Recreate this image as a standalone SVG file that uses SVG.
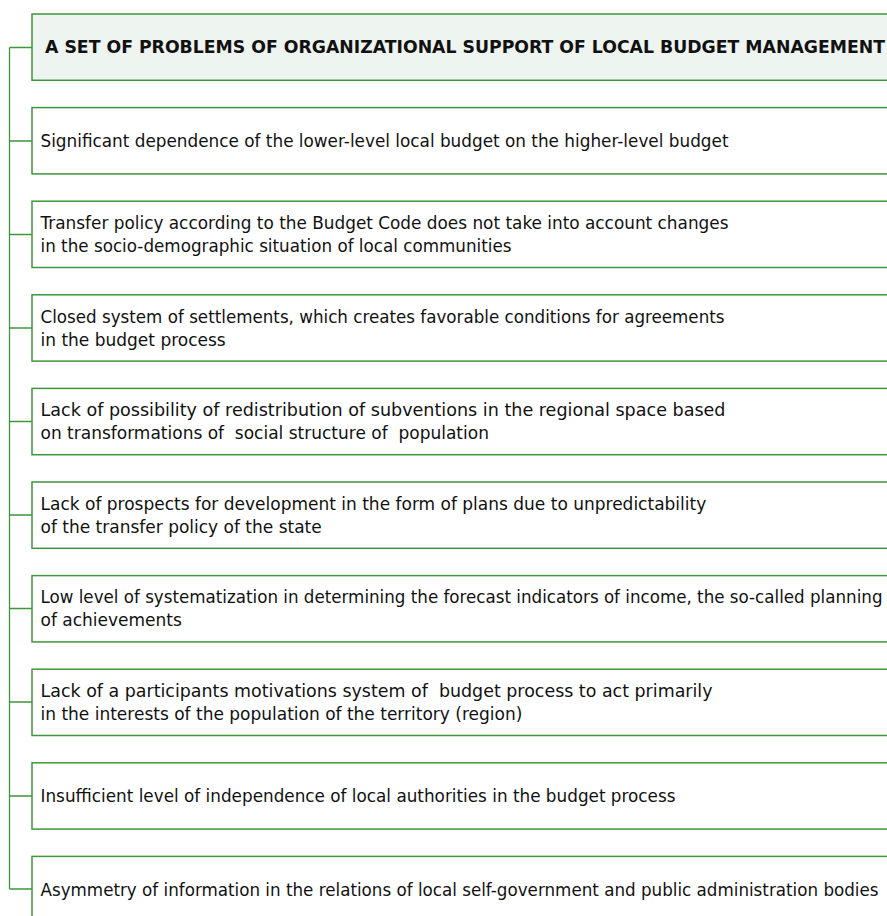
<svg xmlns="http://www.w3.org/2000/svg" width="887" height="916" viewBox="0 0 887 916">
<style>
.box{fill:#ffffff;stroke:#3d963d;stroke-width:1.5}
.hdr{fill:#eef4ef;stroke:#3d963d;stroke-width:1.5}
.t{font-family:"DejaVu Sans",sans-serif;font-size:17px;fill:#111111}
.h{font-family:"DejaVu Sans",sans-serif;font-size:17px;font-weight:bold;fill:#111111}
.c{fill:none;stroke:#3d963d;stroke-width:1.3}
</style>
<rect width="887" height="916" fill="#ffffff"/>
<g id="connectors">
<path class="c" d="M9.5 47.5V889M9.5 47.5H32M9.5 141H32M9.5 234.5H32M9.5 328H32M9.5 421.5H32M9.5 515H32M9.5 608.5H32M9.5 702H32M9.5 796H32M9.5 889H32"/>
</g>
<g id="header">
<rect class="hdr" x="32" y="14" width="870" height="66.3"/>
<text class="h" x="45" y="53.3" textLength="840" lengthAdjust="spacingAndGlyphs">A SET OF PROBLEMS OF ORGANIZATIONAL SUPPORT OF LOCAL BUDGET MANAGEMENT</text>
</g>
<g id="p1">
<rect class="box" x="32" y="107.6" width="870" height="66.3"/>
<text class="t" x="40.5" y="147" textLength="688" lengthAdjust="spacingAndGlyphs">Significant dependence of the lower-level local budget on the higher-level budget</text>
</g>
<g id="p2">
<rect class="box" x="32" y="201.2" width="870" height="66.3"/>
<text class="t" x="40.5" y="229" textLength="688" lengthAdjust="spacingAndGlyphs">Transfer policy according to the Budget Code does not take into account changes</text>
<text class="t" x="40.5" y="252" textLength="471" lengthAdjust="spacingAndGlyphs">in the socio-demographic situation of local communities</text>
</g>
<g id="p3">
<rect class="box" x="32" y="294.8" width="870" height="66.3"/>
<text class="t" x="40.5" y="322.6" textLength="684" lengthAdjust="spacingAndGlyphs">Closed system of settlements, which creates favorable conditions for agreements</text>
<text class="t" x="40.5" y="345.6">in the budget process</text>
</g>
<g id="p4">
<rect class="box" x="32" y="388.4" width="870" height="66.3"/>
<text class="t" x="40.5" y="416.2" textLength="685" lengthAdjust="spacingAndGlyphs">Lack of possibility of redistribution of subventions in the regional space based</text>
<text class="t" x="40.5" y="439.2" xml:space="preserve">on transformations of  social structure of  population</text>
</g>
<g id="p5">
<rect class="box" x="32" y="482" width="870" height="66.3"/>
<text class="t" x="40.5" y="509.8">Lack of prospects for development in the form of plans due to unpredictability</text>
<text class="t" x="40.5" y="532.8">of the transfer policy of the state</text>
</g>
<g id="p6">
<rect class="box" x="32" y="575.6" width="870" height="66.3"/>
<text class="t" x="40.5" y="603.4" textLength="842" lengthAdjust="spacingAndGlyphs">Low level of systematization in determining the forecast indicators of income, the so-called planning</text>
<text class="t" x="40.5" y="626.4">of achievements</text>
</g>
<g id="p7">
<rect class="box" x="32" y="669.2" width="870" height="66.3"/>
<text class="t" x="40.5" y="697" xml:space="preserve" textLength="672" lengthAdjust="spacingAndGlyphs">Lack of a participants motivations system of  budget process to act primarily</text>
<text class="t" x="40.5" y="720">in the interests of the population of the territory (region)</text>
</g>
<g id="p8">
<rect class="box" x="32" y="762.8" width="870" height="66.3"/>
<text class="t" x="40.5" y="802.2" textLength="635" lengthAdjust="spacingAndGlyphs">Insufficient level of independence of local authorities in the budget process</text>
</g>
<g id="p9">
<rect class="box" x="32" y="856.4" width="870" height="66.3"/>
<text class="t" x="40.5" y="895.8" textLength="838" lengthAdjust="spacingAndGlyphs">Asymmetry of information in the relations of local self-government and public administration bodies</text>
</g>
</svg>
